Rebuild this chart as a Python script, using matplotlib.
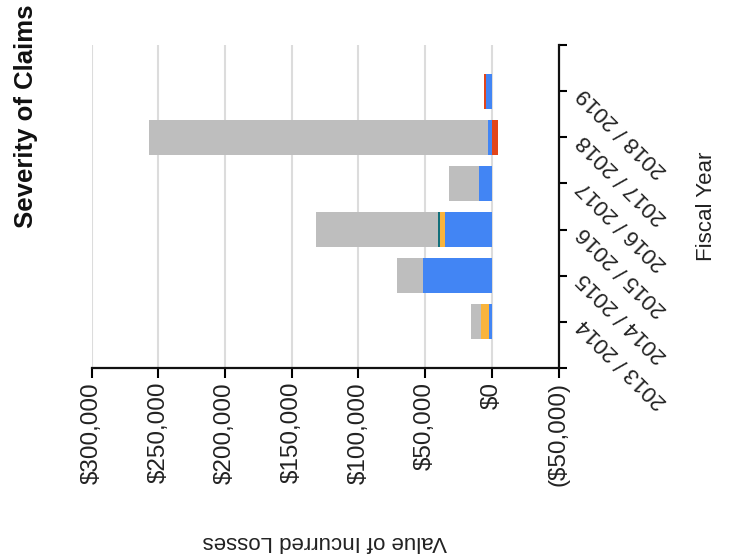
import numpy as np
import matplotlib.pyplot as plt

plt.rcParams['font.family'] = ['Liberation Sans', 'DejaVu Sans']

# incurred losses per fiscal year, one list per stacked series
years = ['2013 / 2014', '2014 / 2015', '2015 / 2016', '2016 / 2017', '2017 / 2018', '2018 / 2019']
blue_vals = [2000, 51500, 35000, 9500, 3200, 4500]
red_vals = [0, 0, 0, 0, -4300, 1700]
yellow_vals = [6000, 0, 3500, 0, 0, 0]
teal_vals = [0, 0, 1500, 0, 0, 0]
grey_vals = [7500, 19300, 91500, 22600, 253800, 0]

value_ticks = [300000, 250000, 200000, 150000, 100000, 50000, 0, -50000]

series = [
    (blue_vals, '#4285F4'),
    (red_vals, '#E2451A'),
    (yellow_vals, '#F9B43C'),
    (teal_vals, '#136F7A'),
    (grey_vals, '#BEBEBE'),
]


def money(v):
    if v < 0:
        return '(${:,.0f})'.format(-v)
    return '${:,.0f}'.format(v)


fig = plt.figure(figsize=(7.31, 5.56), dpi=100)
ax = fig.add_axes([91.7 / 731, 1 - 368 / 556, (558.5 - 91.7) / 731, 323 / 556])

ypos = np.arange(1, len(years) + 1)
pos_base = np.zeros(len(years))
neg_base = np.zeros(len(years))
for vals, color in series:
    vals = np.array(vals, dtype=float)
    left = np.where(vals >= 0, pos_base, neg_base)
    ax.barh(ypos, vals, left=left, height=0.76, color=color, linewidth=0)
    pos_base += np.clip(vals, 0, None)
    neg_base += np.clip(vals, None, 0)

ax.set_xlim(value_ticks[0], value_ticks[-1])
ax.set_ylim(0, len(years) + 1)

# vertical gridlines for the value axis
for v in value_ticks[:-1]:
    ax.axvline(v, color='#DCDCDC', lw=1.5, zorder=0)
ax.set_axisbelow(True)

for s in ['top', 'left']:
    ax.spines[s].set_visible(False)
for s in ['bottom', 'right']:
    ax.spines[s].set_linewidth(1.6)
    ax.spines[s].set_color('#111111')

ax.set_xticks(value_ticks)
ax.set_xticklabels([money(v) for v in value_ticks], rotation=90, fontsize=17.5, color='#222222')
ax.tick_params(axis='x', direction='out', length=7, width=1.5, pad=3)

ax.yaxis.tick_right()
ax.set_yticks(np.arange(0, len(years) + 2))
ax.set_yticklabels([''] + years + [''], fontsize=16, color='#222222')
ax.tick_params(axis='y', direction='out', length=6, width=1.5, pad=10)
for lab in ax.get_yticklabels():
    lab.set_rotation(135)
    lab.set_rotation_mode('anchor')
    lab.set_ha('right')
    lab.set_va('center')

fig.text(26 / 731, 1 - 5 / 556, 'Severity of Claims', rotation=90, ha='center', va='top',
         fontsize=18.5, fontweight='bold', color='#111111')
fig.text(325 / 731, 1 - 542 / 556, 'Value of Incurred Losses', rotation=180, ha='center', va='center',
         fontsize=16, color='#222222')
fig.text(706 / 731, 1 - 206 / 556, 'Fiscal Year', rotation=90, ha='center', va='center',
         fontsize=16, color='#222222')

fig.savefig('out.png', dpi=100)
